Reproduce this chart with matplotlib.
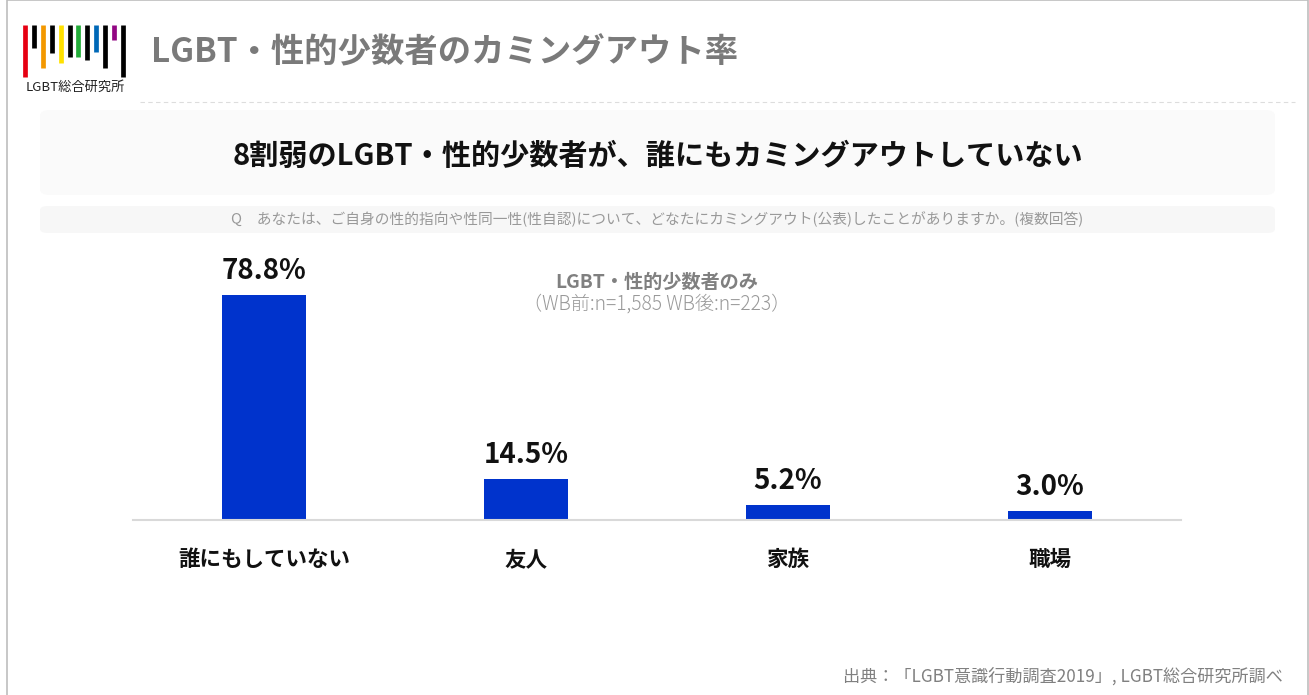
import matplotlib
matplotlib.use("Agg")
import matplotlib.pyplot as plt
from matplotlib.patches import FancyBboxPatch, Rectangle
from matplotlib.lines import Line2D

plt.rcParams['font.family'] = ['Noto Sans CJK JP', 'DejaVu Sans']

# data
categories = ["誰にもしていない", "友人", "家族", "職場"]
values = [78.8, 14.5, 5.2, 3.0]
value_labels = ["78.8%", "14.5%", "5.2%", "3.0%"]

title = "LGBT・性的少数者のカミングアウト率"
headline = "8割弱のLGBT・性的少数者が、誰にもカミングアウトしていない"
question = "Q　あなたは、ご自身の性的指向や性同一性(性自認)について、どなたにカミングアウト(公表)したことがありますか。(複数回答)"
note1 = "LGBT・性的少数者のみ"
note2 = "（WB前:n=1,585 WB後:n=223）"
source = "出典：「LGBT意識行動調査2019」, LGBT総合研究所調べ"

# logo bars (colour, bottom in px from top)
logo_colors = ["#e60012", "#000000", "#f39800", "#000000", "#ffe100", "#000000",
               "#22ac38", "#000000", "#0068b7", "#000000", "#920783", "#000000"]
logo_bottoms = [77, 48, 68, 53, 63, 57, 57, 60, 52, 68, 40, 77]

W, H = 1309, 695
fig = plt.figure(figsize=(W / 100, H / 100), dpi=100)

def fx(x):
    return x / W

def fy(y):
    return 1 - y / H

# outer frame
fig.add_artist(Rectangle((fx(7), fy(700)), fx(1301), 700 / H, transform=fig.transFigure,
                         fill=False, edgecolor="#bdbdbd", linewidth=1.2))

# logo
for i, (c, b) in enumerate(zip(logo_colors, logo_bottoms)):
    x = 25 + i * 8.9
    fig.add_artist(Line2D([fx(x), fx(x)], [fy(25), fy(b)], color=c, linewidth=3.4,
                          transform=fig.transFigure, solid_capstyle="butt"))
fig.text(fx(75), fy(87), "LGBT総合研究所", ha="center", va="center", fontsize=9.5,
         color="#222222")

# header title
fig.text(fx(151), fy(53), title, ha="left", va="center", fontsize=24, fontweight="bold",
         color="#7a7a7a")
fig.add_artist(Line2D([fx(140), fx(1295)], [fy(102), fy(102)], color="#dddddd",
                      linewidth=0.8, linestyle=(0, (4, 3)), transform=fig.transFigure))

# headline box
fig.add_artist(FancyBboxPatch((fx(40), fy(195)), fx(1235), 85 / H,
                              boxstyle="round,pad=0,rounding_size=0.008",
                              transform=fig.transFigure, facecolor="#fafafa",
                              edgecolor="none"))
fig.text(fx(658), fy(156), headline, ha="center", va="center", fontsize=21,
         fontweight="bold", color="#111111")

# question box
fig.add_artist(FancyBboxPatch((fx(40), fy(233)), fx(1235), 27 / H,
                              boxstyle="round,pad=0,rounding_size=0.006",
                              transform=fig.transFigure, facecolor="#f7f7f7",
                              edgecolor="none"))
fig.text(fx(657), fy(219), question, ha="center", va="center", fontsize=10.6,
         color="#999999")

# chart
ax = fig.add_axes([fx(133), fy(520), fx(1048), 257 / H])
x = range(len(categories))
ax.bar(x, values, width=0.317, color="#0033cc")
ax.set_xlim(-0.5, 3.5)
ax.set_ylim(0, 257 / 2.855)
for i, v in enumerate(values):
    ax.text(i, v + 3.5, value_labels[i], ha="center", va="bottom", fontsize=20,
            fontweight="bold", color="#111111")
ax.set_xticks(list(x))
ax.set_xticklabels(categories, fontsize=15.5, fontweight="bold", color="#111111")
ax.tick_params(axis="x", length=0, pad=21)
ax.set_yticks([])
for s in ["top", "right", "left"]:
    ax.spines[s].set_visible(False)
ax.spines["bottom"].set_color("#d9d9d9")
ax.spines["bottom"].set_linewidth(1.5)
ax.patch.set_alpha(0)

fig.text(fx(657), fy(282), note1, ha="center", va="center", fontsize=13.8,
         fontweight="bold", color="#808080")
fig.text(fx(657), fy(304), note2, ha="center", va="center", fontsize=13.8,
         color="#999999", fontweight="light")

# footer
fig.text(fx(1283), fy(676), source, ha="right", va="center", fontsize=12.3,
         color="#808080")

fig.savefig("out.png", dpi=100, facecolor="white")
